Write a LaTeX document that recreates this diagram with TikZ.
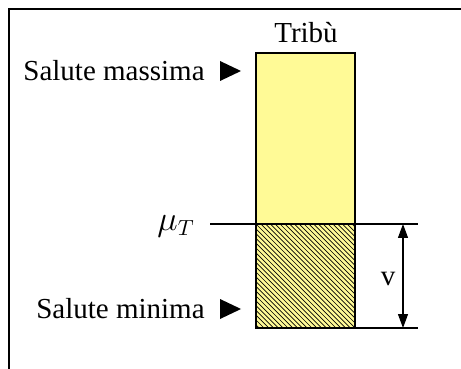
\documentclass[tikz,border=0pt]{standalone}
\usepackage{fontspec}
\setmainfont{Liberation Serif}
\usetikzlibrary{arrows.meta, positioning}

\definecolor{barfill}{RGB}{255,250,150}

\begin{document}
\begin{tikzpicture}[
    x=0.5pt, y=-0.5pt,
    >=Stealth,
    font=\fontsize{14.5}{17}\selectfont,
    lbl/.style={anchor=east, inner sep=0pt},
    edge/.style={line width=1.3pt, draw=black},
    marker/.style={fill=black, draw=none},
    dim/.style={{Triangle[width=5pt,length=7pt]}-{Triangle[width=5pt,length=7pt]}, line width=0.6pt},
]
    \useasboundingbox (0,0) rectangle (461,369);

    % frame (top and left only)
    \draw[line width=0.6pt] (461,9) -- (9,9) -- (9,369);

    % bar corners
    \coordinate (tl) at (256,53);
    \coordinate (br) at (355,328);
    \coordinate (ml) at (256,224);
    \coordinate (mr) at (355,224);

    % upper part of the bar
    \fill[barfill] (tl) rectangle (mr);
    % lower part, hatched
    \fill[barfill] (ml) rectangle (br);
    \begin{scope}
        \clip (ml) rectangle (br);
        \foreach \k in {-24,...,21}
            \draw[line width=0.35pt] (256+\k*4.8,224) -- ++(120,120);
    \end{scope}
    \draw[edge] (tl) rectangle (br);

    % level lines
    \coordinate (mu0) at (210,224);
    \coordinate (mu1) at (418,224);
    \coordinate (lo1) at (418,328);
    \draw[edge] (mu0) -- (mu1);
    \draw[edge] (br) -- (lo1);

    % labels
    \node[inner sep=0pt] (tribu) at (306,33) {Tribù};
    \node[lbl] (smax) at (205,71) {Salute massima};
    \node[lbl] (smin) at (205,309) {Salute minima};
    \node[lbl] (mu) at (195,226) {\fontsize{16}{18}\selectfont$\mu_T$};

    % markers
    \fill[marker] (220,61) -- (220,81) -- (241,71) -- cycle;
    \fill[marker] (220,299) -- (220,319) -- (241,309) -- cycle;

    % height v
    \coordinate (va) at (403,224);
    \coordinate (vb) at (403,328);
    \draw[dim] (va) -- (vb);
    \node[inner sep=0pt] (v) at (388,279) {v};
\end{tikzpicture}
\end{document}
